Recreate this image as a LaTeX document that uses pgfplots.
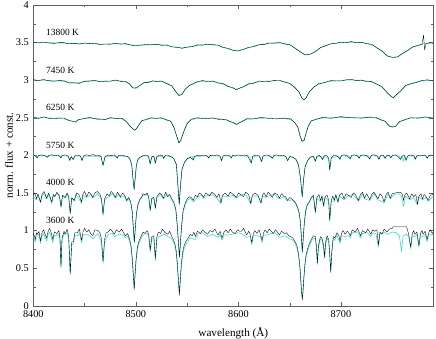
\documentclass[border=0pt]{standalone}
\usepackage{fontspec}
\setmainfont{Liberation Serif}
\usepackage{pgfplots}
\pgfplotsset{compat=1.18}

\definecolor{model}{RGB}{64,224,208}
\definecolor{frame}{RGB}{95,95,95}

\pgfplotsset{
  obs/.style={black, line width=0.35pt, line join=round},
  mod/.style={model, line width=0.65pt, line join=round},
}

\begin{document}
\begin{tikzpicture}
\useasboundingbox (-33.3bp,-33.3bp) rectangle (402.7bp,305.7bp);
\begin{axis}[
  scale only axis, width=400bp, height=300.7bp,
  xmin=8400, xmax=8790, ymin=0, ymax=4,
  xtick={8400,8500,8600,8700}, minor x tick num=1,
  ytick={0,0.5,1,1.5,2,2.5,3,3.5,4}, minor y tick num=1,
  /pgf/number format/1000 sep={},
  /pgf/number format/assume math mode=true,
  tick label style={font=\fontsize{10.3}{12}\selectfont},
  xticklabel style={yshift=-1.8bp},
  yticklabel style={xshift=-1bp},
  xlabel={wavelength (Å)}, ylabel={norm. flux + const.},
  label style={font=\fontsize{11.2}{13}\selectfont},
  xlabel style={at={(axis description cs:0.5,-0.101)}, anchor=base},
  ylabel style={at={(axis description cs:-0.051,0.5)}, anchor=base},
  axis line style={frame}, tick style={frame},
  major tick length=4bp, minor tick length=2.5bp,
]

% ---- 13800 K ----
\addplot[mod] coordinates {
(8400,3.500)(8405,3.500)(8410,3.499)(8415,3.498)(8420,3.497)(8425,3.495)(8430,3.492)(8435,3.489)
(8440,3.488)(8445,3.489)(8450,3.490)(8455,3.488)(8460,3.484)(8465,3.480)(8470,3.479)(8475,3.482)
(8480,3.485)(8485,3.484)(8490,3.478)(8495,3.470)(8500,3.465)(8505,3.464)(8510,3.468)(8515,3.474)
(8520,3.476)(8525,3.472)(8530,3.462)(8535,3.448)(8540,3.437)(8545,3.432)(8550,3.436)(8555,3.448)
(8560,3.462)(8565,3.472)(8570,3.476)(8575,3.474)(8580,3.462)(8585,3.440)(8590,3.415)(8595,3.398)
(8600,3.396)(8605,3.408)(8610,3.430)(8615,3.452)(8620,3.470)(8625,3.482)(8630,3.490)(8635,3.494)
(8640,3.494)(8645,3.488)(8650,3.470)(8655,3.430)(8660,3.375)(8665,3.340)(8670,3.345)(8675,3.385)
(8680,3.430)(8685,3.462)(8690,3.482)(8695,3.493)(8700,3.500)(8705,3.504)(8710,3.505)(8715,3.504)
(8720,3.500)(8725,3.490)(8730,3.470)(8735,3.435)(8740,3.385)(8745,3.330)(8750,3.300)(8755,3.310)
(8760,3.350)(8765,3.400)(8770,3.440)(8775,3.465)(8780,3.480)(8785,3.490)(8790,3.495)
};
\addplot[obs] coordinates {
(8400,3.506)(8405,3.495)(8410,3.508)(8415,3.495)(8420,3.489)(8425,3.499)(8430,3.499)(8435,3.483)
(8440,3.490)(8445,3.480)(8450,3.495)(8455,3.486)(8460,3.492)(8465,3.473)(8470,3.482)(8475,3.478)
(8480,3.491)(8485,3.479)(8490,3.487)(8495,3.467)(8500,3.457)(8505,3.468)(8510,3.475)(8515,3.468)
(8520,3.478)(8525,3.463)(8530,3.469)(8535,3.442)(8540,3.439)(8545,3.423)(8550,3.441)(8555,3.446)
(8560,3.470)(8565,3.465)(8570,3.479)(8575,3.470)(8580,3.468)(8585,3.435)(8590,3.424)(8595,3.395)
(8600,3.388)(8605,3.411)(8610,3.437)(8615,3.446)(8620,3.472)(8625,3.473)(8630,3.495)(8635,3.492)
(8640,3.502)(8645,3.481)(8650,3.473)(8655,3.426)(8660,3.382)(8665,3.334)(8670,3.347)(8675,3.376)
(8680,3.435)(8685,3.456)(8690,3.484)(8695,3.489)(8700,3.506)(8705,3.499)(8710,3.514)(8715,3.497)
(8720,3.503)(8725,3.486)(8730,3.477)(8735,3.429)(8740,3.387)(8745,3.321)(8750,3.305)(8755,3.308)
(8760,3.358)(8765,3.393)(8770,3.443)(8775,3.461)(8779,3.478)(8780.5,3.600)(8781.5,3.405)(8783,3.488)
(8786,3.497)(8790,3.492)
};

% ---- 7450 K ----
\addplot[mod] coordinates {
(8400,3.000)(8405,3.000)(8410,2.998)(8415,2.996)(8420,2.994)(8425,2.990)(8430,2.982)(8435,2.970)
(8440,2.962)(8445,2.968)(8450,2.982)(8455,2.990)(8460,2.990)(8465,2.985)(8470,2.984)(8475,2.990)
(8480,2.994)(8485,2.990)(8490,2.975)(8494,2.950)(8497,2.905)(8499,2.890)(8501,2.895)(8504,2.935)
(8508,2.965)(8512,2.978)(8516,2.985)(8520,2.986)(8525,2.980)(8530,2.962)(8535,2.920)(8539,2.850)
(8542,2.805)(8545,2.815)(8548,2.870)(8552,2.930)(8556,2.960)(8560,2.975)(8565,2.985)(8570,2.988)
(8575,2.985)(8580,2.972)(8585,2.950)(8590,2.918)(8595,2.890)(8598,2.880)(8601,2.890)(8605,2.918)
(8610,2.945)(8615,2.965)(8620,2.978)(8625,2.986)(8630,2.990)(8635,2.992)(8640,2.990)(8645,2.980)
(8650,2.955)(8655,2.910)(8659,2.840)(8662,2.760)(8664,2.745)(8666,2.770)(8669,2.840)(8673,2.905)
(8678,2.945)(8683,2.970)(8690,2.985)(8695,2.993)(8700,2.998)(8705,3.000)(8710,3.002)(8715,3.000)
(8720,2.998)(8725,2.990)(8730,2.975)(8735,2.948)(8740,2.905)(8745,2.840)(8749,2.780)(8751,2.770)
(8754,2.800)(8758,2.860)(8763,2.920)(8768,2.955)(8773,2.975)(8778,2.988)(8784,2.995)(8790,3.000)
};
\addplot[obs] coordinates {
(8400,3.008)(8405,2.994)(8410,3.009)(8415,2.992)(8420,2.985)(8425,2.995)(8430,2.992)(8435,2.963)
(8440,2.965)(8445,2.957)(8450,2.988)(8455,2.988)(8460,2.999)(8465,2.977)(8470,2.988)(8475,2.985)
(8480,3.002)(8485,2.984)(8490,2.986)(8494,2.946)(8497,2.896)(8499,2.895)(8501,2.905)(8504,2.928)
(8508,2.968)(8512,2.967)(8516,2.991)(8520,2.984)(8525,2.989)(8530,2.954)(8535,2.924)(8539,2.845)
(8542,2.795)(8545,2.809)(8548,2.881)(8552,2.926)(8556,2.951)(8560,2.980)(8565,2.995)(8570,2.981)
(8575,2.988)(8580,2.961)(8585,2.956)(8590,2.916)(8595,2.899)(8598,2.872)(8601,2.894)(8605,2.913)
(8610,2.953)(8615,2.959)(8620,2.989)(8625,2.982)(8630,2.981)(8635,2.997)(8640,3.000)(8645,2.973)
(8650,2.958)(8655,2.899)(8659,2.846)(8662,2.758)(8664,2.735)(8666,2.762)(8669,2.844)(8673,2.900)
(8678,2.953)(8683,2.964)(8690,2.996)(8695,2.989)(8700,2.989)(8705,3.005)(8710,3.012)(8715,2.993)
(8720,3.001)(8725,2.979)(8730,2.981)(8735,2.946)(8740,2.914)(8745,2.832)(8749,2.784)(8751,2.765)
(8754,2.808)(8758,2.854)(8763,2.931)(8768,2.951)(8773,2.966)(8778,2.993)(8784,3.005)(8790,2.993)
};

% ---- 6250 K ----
\addplot[mod] coordinates {
(8400,2.500)(8405,2.498)(8410,2.500)(8415,2.497)(8420,2.495)(8425,2.492)(8430,2.485)(8435,2.468)
(8438,2.452)(8441,2.452)(8444,2.470)(8448,2.487)(8455,2.495)(8462,2.490)(8467,2.478)(8470,2.480)
(8475,2.492)(8482,2.495)(8487,2.480)(8491,2.450)(8494,2.400)(8497,2.350)(8499,2.340)(8501,2.360)
(8503,2.410)(8506,2.460)(8510,2.485)(8515,2.493)(8520,2.495)(8525,2.490)(8530,2.478)(8534,2.450)
(8537,2.380)(8540,2.240)(8542,2.170)(8544,2.200)(8547,2.330)(8550,2.430)(8554,2.475)(8560,2.490)
(8568,2.496)(8575,2.494)(8582,2.485)(8588,2.470)(8592,2.450)(8595,2.428)(8598,2.418)(8601,2.430)
(8604,2.458)(8608,2.478)(8615,2.490)(8622,2.494)(8630,2.496)(8638,2.495)(8645,2.490)(8651,2.475)
(8655,2.440)(8658,2.370)(8660,2.270)(8662,2.190)(8664,2.200)(8666,2.290)(8668,2.390)(8671,2.455)
(8676,2.485)(8682,2.496)(8690,2.500)(8700,2.503)(8710,2.505)(8720,2.505)(8728,2.503)(8734,2.495)
(8739,2.478)(8743,2.450)(8747,2.400)(8750,2.372)(8753,2.385)(8757,2.440)(8762,2.480)(8768,2.496)
(8775,2.500)(8782,2.502)(8790,2.500)
};
\addplot[obs] coordinates {
(8400,2.510)(8405,2.491)(8410,2.512)(8415,2.492)(8420,2.485)(8425,2.498)(8430,2.496)(8435,2.460)
(8438,2.456)(8441,2.440)(8444,2.477)(8448,2.484)(8455,2.505)(8462,2.481)(8467,2.483)(8470,2.474)
(8475,2.502)(8482,2.488)(8487,2.492)(8491,2.445)(8494,2.390)(8497,2.356)(8499,2.332)(8501,2.364)
(8503,2.402)(8506,2.464)(8510,2.473)(8515,2.500)(8520,2.492)(8525,2.500)(8530,2.469)(8534,2.455)
(8537,2.374)(8540,2.250)(8542,2.163)(8544,2.212)(8547,2.325)(8550,2.420)(8554,2.481)(8560,2.501)
(8568,2.488)(8575,2.498)(8582,2.473)(8588,2.477)(8592,2.447)(8595,2.438)(8598,2.409)(8601,2.435)
(8604,2.452)(8608,2.488)(8615,2.483)(8622,2.506)(8630,2.491)(8638,2.485)(8645,2.496)(8651,2.486)
(8655,2.432)(8658,2.374)(8660,2.258)(8662,2.185)(8664,2.197)(8666,2.300)(8668,2.381)(8671,2.460)
(8676,2.479)(8682,2.506)(8690,2.493)(8700,2.515)(8710,2.500)(8720,2.495)(8728,2.509)(8734,2.506)
(8739,2.470)(8743,2.454)(8747,2.388)(8750,2.379)(8753,2.382)(8757,2.450)(8762,2.471)(8768,2.501)
(8775,2.494)(8782,2.512)(8790,2.493)
};

% ---- 5750 K ----
\addplot[mod] coordinates {
(8400,1.998)(8403,1.992)(8404,1.965)(8405,1.994)(8413,1.994)(8414,1.972)(8415,1.995)(8426,1.995)
(8427,1.965)(8428,1.994)(8434,1.990)(8435.5,1.930)(8437,1.980)(8439,1.940)(8440.5,1.990)(8446,1.990)
(8447.5,1.925)(8449,1.990)(8466,1.985)(8468,1.860)(8470,1.985)(8481,1.992)(8482,1.960)(8483,1.993)
(8492,1.983)(8494,1.955)(8496,1.870)(8497,1.710)(8498.3,1.540)(8499.5,1.710)(8500.5,1.860)(8502,1.940)
(8504,1.972)(8507,1.992)(8512.5,1.990)(8514,1.880)(8515.5,1.975)(8517.5,1.985)(8519,1.890)(8520.5,1.982)
(8526,1.993)(8527,1.955)(8528.5,1.994)(8534,1.982)(8537,1.955)(8539.5,1.870)(8541,1.590)(8542.3,1.340)
(8543.5,1.590)(8545,1.810)(8547.5,1.905)(8550,1.950)(8553,1.972)(8555,1.985)(8556,1.935)(8557,1.985)
(8570,1.993)(8571,1.960)(8572.5,1.994)(8582,1.990)(8583.5,1.925)(8585,1.990)(8592,1.993)(8593,1.960)
(8594.5,1.994)(8611,1.990)(8612.5,1.890)(8614,1.988)(8621,1.990)(8622.5,1.910)(8624,1.990)(8632,1.993)
(8633,1.955)(8634.5,1.994)(8646,1.988)(8648,1.925)(8650,1.983)(8653,1.972)(8656,1.945)(8658.5,1.870)
(8660.5,1.690)(8662.2,1.440)(8663.5,1.670)(8665,1.840)(8667.5,1.930)(8670,1.972)(8673.5,1.988)(8675,1.915)
(8676.5,1.985)(8681,1.990)(8682,1.940)(8683.5,1.990)(8688,1.955)(8689,1.800)(8690.5,1.965)(8698,1.990)
(8699,1.945)(8700.5,1.992)(8708,1.992)(8709,1.950)(8710.5,1.995)(8716.5,1.994)(8717.5,1.958)(8719,1.995)
(8727,1.994)(8728,1.948)(8729.5,1.995)(8736,1.993)(8737,1.945)(8738.5,1.993)(8742,1.994)(8743,1.958)
(8744.5,1.994)(8747.5,1.995)(8748.5,1.965)(8750,1.995)(8757,1.992)(8758,1.940)(8759.5,1.990)(8761,1.920)
(8762,1.990)(8763.5,1.928)(8765,1.990)(8771.5,1.992)(8772.5,1.945)(8774,1.993)(8783,1.993)(8784,1.958)
(8785.5,1.995)(8790,1.995)
};
\addplot[obs] coordinates {
(8400,2.004)(8402,1.992)(8404,1.965)(8405,1.995)(8408,2.006)(8411,1.994)(8414,1.975)(8415,1.998)
(8418,2.008)(8421,1.997)(8424,2.003)(8427,1.968)(8428,1.996)(8431,2.006)(8434,1.990)(8435.5,1.935)
(8437,1.985)(8439,1.945)(8440.5,1.992)(8443,2.004)(8446,1.990)(8447.5,1.932)(8449,1.992)(8452,2.007)
(8455,1.996)(8458,2.012)(8460,1.998)(8463,2.004)(8466,1.985)(8468,1.870)(8470,1.985)(8473,2.003)
(8476,1.995)(8479,2.006)(8482,1.965)(8483,1.996)(8486,2.002)(8489,1.993)(8492,1.985)(8494,1.960)
(8496,1.880)(8497,1.720)(8498.3,1.550)(8499.5,1.720)(8500.5,1.870)(8502,1.945)(8504,1.975)(8507,1.996)
(8510,2.004)(8512,1.994)(8514,1.890)(8515.5,1.980)(8517.5,1.990)(8519,1.900)(8520.5,1.985)(8523,2.003)
(8526,1.995)(8527,1.960)(8528.5,1.998)(8531,2.005)(8534,1.985)(8537,1.960)(8539.5,1.880)(8541,1.600)
(8542.3,1.350)(8543.5,1.600)(8545,1.820)(8547.5,1.910)(8550,1.955)(8553,1.975)(8556,1.940)(8557,1.985)
(8560,2.000)(8563,1.993)(8566,2.004)(8569,1.995)(8571,1.968)(8572.5,2.001)(8576,1.994)(8579,2.006)
(8582,1.990)(8583.5,1.930)(8585,1.992)(8588,2.004)(8591,1.996)(8593,1.968)(8594.5,2.002)(8597,1.992)
(8600,2.006)(8603,1.997)(8606,2.005)(8609,1.992)(8612.5,1.900)(8614,1.990)(8617,2.004)(8620,1.996)
(8622.5,1.920)(8624,1.992)(8627,2.006)(8630,1.996)(8633,1.962)(8634.5,1.998)(8637,2.006)(8640,1.994)
(8643,2.003)(8646,1.988)(8648,1.930)(8650,1.985)(8653,1.975)(8656,1.950)(8658.5,1.880)(8660.5,1.700)
(8662.2,1.450)(8663.5,1.680)(8665,1.850)(8667.5,1.935)(8670,1.975)(8672.5,1.992)(8675,1.925)(8676.5,1.988)
(8679,2.002)(8682,1.945)(8683.5,1.995)(8686,2.003)(8688,1.960)(8689,1.810)(8690.5,1.970)(8693,2.004)
(8696,1.994)(8699,1.950)(8700.5,1.996)(8703,2.006)(8706,1.994)(8709,1.955)(8710.5,2.000)(8713,2.007)
(8716,1.993)(8717.5,1.962)(8719,1.998)(8722,2.006)(8725,1.995)(8728,1.952)(8729.5,2.000)(8732,2.008)
(8735,1.994)(8737,1.950)(8738.5,1.995)(8741,2.004)(8743,1.962)(8744.5,1.996)(8747,2.002)(8748.5,1.968)
(8750,1.998)(8753,2.006)(8755,1.990)(8758,1.948)(8759.5,1.992)(8762,1.998)(8763.5,1.935)(8765,1.992)
(8768,2.006)(8771,1.992)(8772.5,1.950)(8774,1.996)(8777,2.004)(8780,1.993)(8782,2.006)(8784,1.962)
(8785.5,1.998)(8788,2.005)(8790,1.998)
};

% ---- 4000 K ----
\addplot[mod] coordinates {
(8400,1.45)(8403,1.41)(8404.5,1.47)(8407,1.37)(8408.5,1.46)(8411,1.49)(8413,1.42)(8415,1.48)
(8418,1.36)(8419.5,1.46)(8423,1.49)(8425.5,1.45)(8427,1.30)(8428.5,1.46)(8431,1.43)(8433,1.48)
(8434.5,1.44)(8436,1.22)(8437.5,1.43)(8440,1.39)(8442,1.48)(8447,1.36)(8448.5,1.47)(8452,1.44)
(8456,1.48)(8458,1.43)(8462.5,1.49)(8466.5,1.41)(8468,1.20)(8469.5,1.41)(8474,1.45)(8477,1.49)
(8480,1.43)(8483,1.48)(8485,1.44)(8489,1.46)(8491,1.39)(8493,1.43)(8495,1.37)(8496.5,1.23)
(8497.5,1.02)(8498.5,0.83)(8499.5,1.02)(8500.5,1.20)(8502,1.33)(8504,1.41)(8507,1.47)(8511,1.48)
(8512.5,1.44)(8514,1.26)(8515.5,1.42)(8517.5,1.43)(8519,1.29)(8520.5,1.44)(8524,1.48)(8527,1.42)
(8530,1.48)(8533,1.46)(8535,1.41)(8537,1.36)(8539,1.26)(8540.5,1.03)(8541.5,0.83)(8542.5,0.64)
(8543.5,0.83)(8544.5,1.03)(8546,1.24)(8548,1.34)(8550,1.40)(8553,1.43)(8556,1.38)(8560,1.44)
(8564,1.47)(8566,1.43)(8570,1.47)(8574,1.49)(8579,1.43)(8583,1.36)(8584.5,1.46)(8590,1.45)
(8595,1.47)(8598,1.43)(8602,1.47)(8607,1.49)(8612,1.35)(8613.5,1.46)(8619,1.46)(8622,1.36)
(8623.5,1.46)(8627,1.44)(8631,1.47)(8635,1.48)(8640,1.42)(8644,1.45)(8648,1.39)(8652,1.41)
(8656,1.35)(8658,1.28)(8659.5,1.20)(8660.5,1.08)(8661.5,0.88)(8662.3,0.70)(8663.2,0.88)(8664.2,1.08)
(8665.5,1.24)(8667,1.33)(8669,1.37)(8671,1.43)(8673,1.46)(8675,1.23)(8676.5,1.43)(8680,1.39)
(8681.5,1.45)(8683,1.32)(8684.5,1.44)(8688,1.39)(8689,1.12)(8690.5,1.39)(8693.5,1.39)(8695,1.47)
(8697,1.37)(8698.5,1.46)(8703,1.41)(8707,1.46)(8712,1.48)(8717,1.39)(8721,1.49)(8723,1.42)
(8728,1.40)(8732,1.49)(8736,1.41)(8742,1.37)(8746,1.49)(8748,1.42)(8752,1.48)(8756,1.49)
(8759,1.45)(8761,1.32)(8763,1.46)(8767,1.41)(8771,1.44)(8774.5,1.34)(8776,1.45)(8779.5,1.41)
(8783,1.44)(8785,1.39)(8790,1.46)
};
\addplot[obs] coordinates {
(8400,1.47)(8401.5,1.50)(8403,1.42)(8404.5,1.49)(8407,1.38)(8408.5,1.48)(8410.5,1.52)(8413,1.43)
(8415,1.50)(8418,1.38)(8419.5,1.48)(8421,1.45)(8423,1.51)(8425.5,1.46)(8427,1.32)(8428.5,1.47)
(8431,1.44)(8433,1.50)(8434.5,1.45)(8436,1.23)(8437.5,1.44)(8440,1.40)(8442,1.50)(8444.5,1.48)
(8447,1.38)(8448.5,1.49)(8450,1.52)(8452,1.45)(8454,1.51)(8456,1.49)(8458,1.44)(8460,1.50)
(8462.5,1.52)(8465,1.48)(8466.5,1.42)(8468,1.22)(8469.5,1.42)(8472,1.49)(8474,1.46)(8476,1.52)
(8478,1.49)(8480,1.44)(8482,1.51)(8485,1.45)(8487,1.50)(8489,1.47)(8491,1.40)(8493,1.44)
(8495,1.38)(8496.5,1.25)(8497.5,1.05)(8498.5,0.85)(8499.5,1.05)(8500.5,1.22)(8502,1.35)(8504,1.42)
(8505.5,1.44)(8507,1.49)(8509,1.47)(8511,1.50)(8512.5,1.45)(8514,1.27)(8515.5,1.43)(8517.5,1.44)
(8519,1.30)(8520.5,1.45)(8523,1.50)(8525,1.48)(8527,1.43)(8529,1.51)(8531,1.45)(8533,1.48)
(8535,1.42)(8537,1.38)(8539,1.28)(8540.5,1.05)(8541.5,0.85)(8542.5,0.65)(8543.5,0.85)(8544.5,1.05)
(8546,1.26)(8548,1.36)(8550,1.42)(8552,1.45)(8554,1.44)(8556,1.40)(8558,1.47)(8560,1.45)
(8562,1.50)(8564,1.48)(8566,1.44)(8568,1.50)(8570,1.48)(8572,1.46)(8574,1.51)(8577,1.48)
(8579,1.44)(8581,1.49)(8583,1.37)(8584.5,1.47)(8587,1.50)(8590,1.46)(8592,1.51)(8595,1.48)
(8598,1.44)(8600,1.50)(8602,1.48)(8605,1.45)(8607,1.51)(8610,1.48)(8612,1.36)(8613.5,1.47)
(8616,1.50)(8619,1.47)(8622,1.37)(8623.5,1.47)(8625,1.50)(8627,1.45)(8629,1.51)(8631,1.48)
(8633,1.44)(8635,1.50)(8638,1.48)(8640,1.43)(8642,1.49)(8644,1.46)(8646,1.45)(8648,1.40)
(8650,1.44)(8652,1.42)(8654,1.40)(8656,1.36)(8658,1.30)(8659.5,1.22)(8660.5,1.10)(8661.5,0.90)
(8662.3,0.72)(8663.2,0.90)(8664.2,1.10)(8665.5,1.26)(8667,1.34)(8669,1.38)(8671,1.44)(8673,1.47)
(8675,1.25)(8676.5,1.44)(8678.5,1.48)(8680,1.40)(8681.5,1.46)(8683,1.33)(8684.5,1.45)(8686.5,1.47)
(8688,1.40)(8689,1.14)(8690.5,1.40)(8692,1.46)(8693.5,1.40)(8695,1.48)(8697,1.38)(8698.5,1.47)
(8701,1.50)(8703,1.42)(8705,1.49)(8707,1.47)(8710,1.44)(8712,1.50)(8714,1.48)(8717,1.40)
(8719,1.48)(8721,1.51)(8723,1.43)(8725,1.49)(8728,1.41)(8730,1.48)(8732,1.51)(8734,1.47)
(8736,1.42)(8738,1.49)(8740,1.46)(8742,1.38)(8744,1.48)(8746,1.51)(8748,1.43)(8750,1.49)
(8753,1.50)(8758,1.51)(8760,1.47)(8761,1.40)(8762,1.47)(8764,1.50)(8767,1.42)(8769,1.49)
(8771,1.45)(8773,1.48)(8774.5,1.35)(8776,1.46)(8778,1.49)(8779.5,1.42)(8781,1.48)(8783,1.45)
(8785,1.40)(8787,1.47)(8790,1.48)
};

% ---- 3600 K ----
\addplot[mod] coordinates {
(8400,0.92)(8402,0.85)(8403,0.94)(8405.5,0.95)(8407,0.83)(8408.5,0.93)(8410,0.96)(8413,0.86)
(8414.5,0.95)(8416,0.98)(8419,0.84)(8420.5,0.94)(8423,0.93)(8425,0.96)(8426,0.87)(8427,0.50)
(8428,0.87)(8430,0.95)(8433,0.97)(8434.5,0.89)(8436,0.41)(8437.5,0.82)(8439,0.82)(8440.5,0.93)
(8443,0.93)(8445,0.97)(8447,0.84)(8448.5,0.94)(8452,0.95)(8456,0.92)(8458,0.89)(8463,0.96)
(8466.5,0.85)(8468,0.56)(8469.5,0.85)(8473,0.95)(8477,0.96)(8479,0.92)(8484,0.95)(8488,0.94)
(8490,0.90)(8492,0.93)(8494,0.85)(8495.5,0.75)(8496.7,0.56)(8497.6,0.37)(8498.4,0.24)(8499.2,0.39)
(8500.2,0.58)(8501.5,0.75)(8503,0.83)(8505,0.89)(8507,0.95)(8511,0.96)(8512.5,0.92)(8514,0.71)
(8515.5,0.89)(8517.5,0.90)(8519,0.60)(8520.5,0.89)(8524,0.93)(8528,0.95)(8531,0.92)(8535,0.89)
(8536.5,0.85)(8538,0.80)(8539.5,0.68)(8540.5,0.50)(8541.5,0.30)(8542.4,0.17)(8543.3,0.30)(8544.3,0.50)
(8545.5,0.66)(8547,0.76)(8549,0.82)(8551,0.86)(8553,0.91)(8555,0.89)(8558,0.88)(8560,0.95)
(8565,0.97)(8570,0.92)(8575,0.95)(8580,0.91)(8582,0.95)(8584,0.87)(8586,0.94)(8590,0.94)
(8594,0.95)(8599,0.97)(8603,0.96)(8608,0.91)(8611.5,0.92)(8613,0.81)(8614.5,0.93)(8618,0.93)
(8621.5,0.92)(8623,0.84)(8624.5,0.94)(8628,0.94)(8632,0.96)(8636,0.97)(8640,0.91)(8645,0.93)
(8649,0.90)(8653,0.87)(8655,0.83)(8657,0.77)(8658.5,0.67)(8659.8,0.52)(8660.8,0.32)(8661.6,0.17)
(8662.3,0.11)(8663,0.18)(8663.8,0.35)(8664.8,0.52)(8666,0.65)(8667.5,0.73)(8669,0.79)(8671,0.85)
(8673,0.90)(8675,0.89)(8676,0.77)(8677,0.55)(8678,0.77)(8680,0.89)(8681.5,0.87)(8683,0.77)
(8684,0.63)(8685,0.82)(8686.5,0.90)(8688,0.85)(8689,0.67)(8690,0.44)(8691,0.69)(8692.5,0.89)
(8694,0.87)(8696,0.94)(8699,0.83)(8700.5,0.93)(8704,0.92)(8708,0.93)(8709,0.90)(8711,0.97)
(8716,0.98)(8719,0.90)(8721,0.96)(8726,0.97)(8729,0.92)(8731,0.97)(8734,0.96)(8736.5,0.78)
(8738,0.95)(8742,0.98)(8745,0.95)(8750,0.98)(8754,0.97)(8757,0.93)(8759,0.72)(8760.5,0.93)
(8764,0.95)(8766,0.92)(8768,0.76)(8769.5,0.93)(8772,0.92)(8774,0.95)(8776,0.78)(8777.5,0.93)
(8780,0.92)(8782,0.95)(8784,0.85)(8785.5,0.94)(8790,0.95)
};
\addplot[obs] coordinates {
(8400,0.96)(8401,0.93)(8402,0.88)(8403,0.97)(8404,0.95)(8405.5,0.99)(8407,0.86)(8408.5,0.97)
(8410,1.01)(8411.5,0.95)(8413,0.90)(8414.5,0.99)(8416,1.03)(8417.5,0.97)(8419,0.88)(8420.5,0.98)
(8423,0.96)(8425,1.00)(8426,0.90)(8427,0.52)(8428,0.90)(8430,0.99)(8431,0.95)(8433,1.02)
(8434.5,0.92)(8436,0.43)(8437.5,0.85)(8439,0.85)(8440.5,0.97)(8443,0.97)(8445,1.02)(8447,0.87)
(8448.5,0.98)(8450,1.03)(8452,0.98)(8454,1.01)(8456,0.96)(8458,0.93)(8460,1.01)(8463,1.00)
(8465,0.97)(8466.5,0.88)(8468,0.59)(8469.5,0.88)(8471,0.97)(8473,0.98)(8475,1.02)(8477,0.99)
(8479,0.95)(8481,1.01)(8484,0.98)(8486,1.02)(8488,0.97)(8490,0.93)(8492,0.96)(8494,0.88)
(8495.5,0.78)(8496.7,0.60)(8497.6,0.40)(8498.4,0.21)(8499.2,0.42)(8500.2,0.62)(8501.5,0.78)(8503,0.86)
(8505,0.92)(8507,0.98)(8509,0.96)(8511,1.00)(8512.5,0.95)(8514,0.74)(8515.5,0.92)(8517.5,0.93)
(8519,0.63)(8520.5,0.92)(8522,0.98)(8524,0.96)(8526,1.02)(8528,0.98)(8531,0.95)(8533,0.99)
(8535,0.92)(8536.5,0.88)(8538,0.83)(8539.5,0.72)(8540.5,0.55)(8541.5,0.35)(8542.4,0.14)(8543.3,0.35)
(8544.3,0.55)(8545.5,0.70)(8547,0.80)(8549,0.86)(8551,0.90)(8553,0.95)(8555,0.93)(8556.5,0.98)
(8558,0.92)(8560,0.99)(8563,0.96)(8565,1.01)(8567,0.98)(8570,0.95)(8572,1.00)(8575,0.98)
(8577,1.02)(8580,0.94)(8582,0.99)(8584,0.90)(8586,0.98)(8588,1.01)(8590,0.97)(8592,1.02)
(8594,0.98)(8597,0.96)(8599,1.01)(8601,0.99)(8603,0.99)(8605,1.03)(8608,0.94)(8610,0.99)
(8611.5,0.95)(8613,0.84)(8614.5,0.96)(8616,1.00)(8618,0.96)(8620,1.01)(8621.5,0.95)(8623,0.87)
(8624.5,0.97)(8626,1.01)(8628,0.97)(8630,1.02)(8632,0.99)(8634,0.96)(8636,1.01)(8638,0.98)
(8640,0.94)(8642,0.99)(8645,0.96)(8647,0.97)(8649,0.93)(8651,0.92)(8653,0.90)(8655,0.86)
(8657,0.80)(8658.5,0.70)(8659.8,0.55)(8660.8,0.35)(8661.6,0.18)(8662.3,0.08)(8663,0.20)(8663.8,0.38)
(8664.8,0.55)(8666,0.68)(8667.5,0.76)(8669,0.82)(8671,0.88)(8673,0.93)(8675,0.92)(8676,0.80)
(8677,0.57)(8678,0.80)(8680,0.92)(8681.5,0.90)(8683,0.80)(8684,0.65)(8685,0.85)(8686.5,0.93)
(8688,0.88)(8689,0.70)(8690,0.45)(8691,0.72)(8692.5,0.92)(8694,0.90)(8696,0.97)(8698,0.93)
(8699,0.86)(8700.5,0.96)(8702,1.00)(8704,0.95)(8706,0.99)(8708,0.96)(8709,0.93)(8711,1.01)
(8714,0.98)(8716,1.03)(8718,0.97)(8719,0.93)(8721,1.00)(8724,0.97)(8726,1.02)(8728,0.98)
(8729,0.95)(8731,1.01)(8733,0.99)(8735,1.01)(8736.5,0.81)(8738,0.98)(8740,0.95)(8742,1.02)
(8745,0.98)(8747,1.02)(8750,1.03)(8751,1.05)(8764,1.05)(8766,0.95)(8768,0.78)(8769.5,0.96)
(8771,1.00)(8772,0.95)(8774,0.98)(8776,0.80)(8777.5,0.96)(8779,1.00)(8780,0.95)(8782,0.99)
(8784,0.88)(8785.5,0.97)(8787,1.01)(8789,0.96)(8790,0.98)
};

% temperature labels
\begin{scope}[every node/.style={anchor=base west, inner sep=0pt, font=\fontsize{9.5}{11}\selectfont}]
\node at (axis cs:8412.4,3.595) {13800 K};
\node at (axis cs:8412.4,3.095) {7450 K};
\node at (axis cs:8412.4,2.590) {6250 K};
\node at (axis cs:8412.4,2.090) {5750 K};
\node at (axis cs:8412.4,1.600) {4000 K};
\node at (axis cs:8412.4,1.095) {3600 K};
\end{scope}
\end{axis}
\end{tikzpicture}
\end{document}
